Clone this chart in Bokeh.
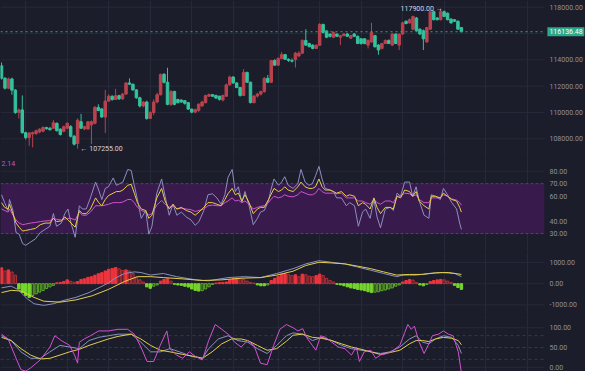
from bokeh.plotting import figure
from bokeh.layouts import column
from bokeh.models import (Range1d, FixedTicker, PrintfTickFormatter,
                          BoxAnnotation, Label, ColumnDataSource)
from bokeh.embed import file_html
from bokeh.resources import INLINE

# ---------------- candle data ----------------
opens = [113550,112600,111850,112550,111700,110000,110200,108470,108100,108380,
         108400,108520,108580,108860,108800,108800,109180,108740,108570,108810,
         108930,108200,107650,109300,108750,108750,109060,109180,110390,110270,
         109660,110870,111240,110990,111280,111040,111400,112250,112150,111720,
         111120,110500,110800,109550,110000,110800,111350,112900,112300,110620,
         111600,110990,110950,110900,110750,110260,110030,110150,110500,110750,
         111240,111360,111300,111240,110950,111240,112100,112700,112250,111900,
         111300,113050,112300,110750,111250,111400,111600,112600,112300,113950,
         113600,114100,114400,114050,113950,114020,114300,114510,115480,115240,
         115110,114870,115110,116690,116200,115960,115720,115960,115720,115840,
         115960,115650,115960,115790,115600,115600,115120,115360,115840,115120,
         114870,115240,115480,115120,115960,115120,115960,116930,116810,116330,
         117180,116330,116210,115360,116330,117660,117180,117050,117660,117540,
         117100,117050,116930,116450]
highs = [113800,112700,112650,112650,111780,110300,111300,108550,108500,108550,
         108700,108800,108950,108920,108900,109420,109250,108800,109000,109250,
         109050,108300,109550,109900,109000,109350,109400,110500,110630,110350,
         111720,111400,111300,111800,111350,111500,112300,112600,112200,111780,
         111200,110850,110900,110100,111000,111500,112950,113000,113400,111700,
         111650,111050,111000,110950,110800,110300,110300,110700,110900,111350,
         111450,111400,111350,111280,111350,112200,112800,112750,112300,111950,
         113300,113100,112350,111300,111500,111650,112700,112850,114000,114050,
         114200,114600,114450,114100,114100,114600,114650,115550,116330,115300,
         115200,115200,116800,116750,116250,116000,116150,116000,115900,116050,
         116050,115900,116050,115850,115650,115650,115550,116810,115900,115200,
         115300,115550,115550,116050,116000,116000,116900,117000,117150,117350,
         117250,116400,116300,116500,117750,117750,117250,117900,117750,117600,
         117150,117100,117000,116500]
lows = [112500,111750,111780,111350,109900,109550,108400,107950,107480,107360,
        108300,108420,108500,108700,108640,108760,108560,108250,108500,108750,
        108100,107500,107255,108750,108650,108700,107600,109100,110100,109600,
        108450,110800,110900,110950,110950,110950,111350,112100,111650,111050,
        110380,110400,109450,109500,109800,110700,111300,112200,110550,110500,
        110550,110700,110750,110600,110200,109950,109950,110050,110450,110700,
        111200,111180,111050,110900,110850,111200,112050,112180,111850,111200,
        111250,112250,110700,110700,111150,111300,111500,112250,112250,113550,
        113550,114050,114000,113850,113800,113420,114200,114450,115050,114950,
        114800,114820,115050,116000,115650,115700,115650,115750,115120,115800,
        115750,115600,115750,115200,115150,115180,114870,115300,114950,114390,
        114800,115200,115200,115050,115200,114750,115900,116700,116750,116250,
        116150,115900,114750,115300,116300,117000,117000,117000,117250,117000,
        116750,116880,116300,116100]
closes = [112600,111850,112550,111700,110000,110200,108470,108100,108450,108480,
          108620,108740,108860,108770,108690,109230,108620,108330,108930,109180,
          108200,107600,109420,108810,108930,109300,109300,110390,110150,109660,
          110870,111240,110990,111280,111040,111400,112250,112150,111720,111120,
          110500,110800,109550,110000,110800,111350,112900,112300,110620,111600,
          110620,110750,110800,110700,110260,110030,110220,110630,110800,111280,
          111360,111240,111100,111000,111300,112100,112700,112250,111900,111300,
          113050,112300,110750,111250,111400,111600,112600,112300,113950,113600,
          114100,114400,114050,113950,113900,114510,114510,115480,115120,115000,
          114870,115110,116690,116090,115720,115790,116090,115790,115840,115960,
          115790,115840,115790,115240,115240,115240,115480,116090,114990,114750,
          115240,115480,115240,115960,115240,115960,116810,116760,117050,117300,
          116210,115960,115600,116450,117660,117050,117050,117660,117300,117050,
          116810,116930,116330,116136.48]
low_mark_index = 22
high_mark_index = 127
price_ticks = [108000, 110000, 112000, 114000, 118000]
price_grid = [108000, 110000, 112000, 114000, 116000, 118000]
xgrid_ticks = [7, 19, 31, 43, 55, 67, 80, 92, 104, 116, 128, 140, 152]

# ---------------- RSI ----------------
rsi_x = [0.0,0.9,1.9,2.3,3.3,4.2,5.1,6.1,7.0,8.4,9.8,11.2,12.6,14.0,15.0,15.9,17.3,18.3,19.2,20.1,
         21.3,22.5,23.4,24.5,25.7,27.2,28.1,29.0,30.0,30.9,32.3,33.2,34.2,35.1,36.5,37.5,38.4,39.3,40.4,41.7,
         42.6,43.5,
         44.9,46.3,47.3,48.5,49.6,50.7,52.0,53.4,54.8,56.0,57.1,58.5,59.7,61.0,62.3,63.5,64.6,65.5,66.7,67.6,
         68.5,69.5,70.4,71.6,72.8,74.0,74.9,76.0,77.2,77.9,78.8,80.1,81.0,81.9,82.9,84.3,85.7,86.6,87.8,88.9,
         89.9,90.8,91.8,92.7,93.6,95.0,96.0,96.9,98.3,99.7,100.7,102.1,103.2,104.4,105.3,106.6,107.7,108.6,109.6,111.0,
         112.4,113.3,114.4,115.4,116.6,118.0,118.9,119.9,120.8,122.2,123.6,124.3,125.5,126.9,127.8,129.0,130.2,131.6,132.5,133.0]
rsi6 = [61.1,54.8,48.5,57.3,48.5,30.8,29.5,21.9,20.6,23.2,25.7,30.8,33.3,35.8,46.0,35.8,38.4,46.0,49.7,38.4,
        27.0,52.3,49.7,49.7,58.6,71.3,64.9,57.3,66.2,67.5,74.6,68.7,70.0,71.3,81.4,80.6,68.7,57.3,42.2,48.5,
        29.5,35.8,
        62.4,73.8,59.9,44.7,53.5,44.7,47.2,43.4,40.9,36.6,39.6,48.5,61.1,61.9,58.6,53.5,61.1,75.1,81.4,63.7,
        67.5,54.8,63.7,52.3,37.1,42.2,47.2,48.5,56.1,64.9,73.8,68.7,71.3,75.6,68.7,66.2,70.0,81.4,71.3,68.7,
        70.0,76.3,83.9,73.8,66.2,64.9,63.7,58.6,58.6,52.3,54.8,52.3,35.8,47.2,49.7,42.2,57.3,43.4,34.6,49.7,
        51.0,48.5,62.4,59.9,71.3,71.3,59.9,67.5,56.1,44.7,42.2,61.1,59.9,57.3,66.2,61.1,54.8,49.7,38.4,33.3]
rsi12 = [54.8,51.0,49.7,53.5,46.0,38.4,35.1,32.0,32.5,33.3,34.1,37.1,38.4,38.4,42.2,39.6,40.1,43.4,40.9,38.4,
         35.1,48.5,46.0,46.0,49.7,58.6,54.8,52.3,57.3,60.4,62.4,63.7,63.7,64.9,68.7,69.5,62.4,54.8,49.7,48.5,
         42.2,44.7,
         58.6,66.2,56.1,49.7,53.5,49.7,51.0,48.5,47.2,44.7,47.2,51.0,54.8,54.8,53.5,52.3,57.3,61.9,66.2,61.1,
         62.4,56.1,61.1,54.8,46.0,49.7,51.0,51.0,57.3,61.1,66.2,63.7,64.9,67.5,64.9,63.7,67.5,71.3,67.5,66.2,
         66.2,67.5,73.8,67.5,64.9,64.9,63.7,62.4,63.7,59.9,61.1,59.9,52.3,54.8,53.5,49.7,58.6,51.0,46.0,51.0,
         51.0,49.7,59.9,58.6,64.9,63.7,59.9,63.7,56.1,52.3,49.7,59.9,59.9,58.6,62.4,59.9,57.3,56.1,51.0,47.2]
rsi24 = [49.7,48.5,47.2,49.7,44.7,40.9,38.4,37.1,37.6,38.4,38.9,39.6,40.1,40.4,42.2,41.4,40.9,41.6,42.2,42.2,
         40.9,47.2,44.7,44.7,47.2,52.3,52.3,52.3,52.8,53.5,54.8,54.8,54.8,55.3,57.3,57.3,54.8,51.0,48.5,47.2,
         44.7,46.0,
         52.8,56.6,53.5,51.0,52.3,49.7,50.3,49.7,49.2,47.7,48.5,49.7,52.3,52.8,52.3,52.3,54.8,56.1,58.6,56.1,
         56.8,54.8,56.1,53.5,49.7,51.0,51.8,52.3,54.8,57.3,59.9,58.6,59.4,61.1,59.9,59.4,61.1,63.7,62.4,61.1,
         61.1,62.4,66.2,63.7,62.4,62.4,62.4,61.9,62.4,58.6,58.6,58.6,56.1,56.1,54.8,53.5,57.3,54.8,53.5,56.1,
         56.1,54.8,59.9,59.9,62.4,61.9,59.9,61.1,57.3,54.8,54.8,58.6,58.6,58.6,61.1,59.9,57.8,56.8,54.8,52.8]
rsi_ticks = [30, 40, 60, 70, 80]

# ---------------- MACD ----------------
macd_hist = [750,600,650,550,400,
             -250,-420,-560,-650,-560,-480,-400,-320,-230,-150,-80,
             40,60,100,180,110,70,
             100,200,230,300,330,400,470,520,600,680,720,760,700,620,650,600,480,300,180,80,
             -150,-220,-120,-60,
             120,200,230,120,
             -30,-60,-80,-120,-160,-250,-320,-350,-330,-250,-150,-40,
             30,50,60,80,180,230,260,250,200,120,60,30,
             -60,-100,-100,-60,
             150,250,350,450,480,420,380,
             420,330,450,420,350,330,380,450,380,250,150,80,
             -30,-60,-100,-150,-200,-230,-270,-300,-330,-380,-420,-400,-380,-330,-300,-250,-200,-120,-60,
             80,150,200,170,60,
             -60,-100,-40,
             100,150,180,200,180,120,60,
             -80,-180,-270]
dif_x = [0.0,2.8,4.7,7.5,9.4,12.2,15.0,17.8,21.5,25.3,28.1,30.9,32.8,35.6,38.4,40.3,43.1,46.8,50.6,56.2,
         59.9,65.5,70.2,74.9,79.6,84.3,88.0,91.8,95.5,99.3,103.0,106.8,110.5,114.3,116.1,119.9,123.6,127.4,131.1,133.0]
dif = [-196,-120,-271,-722,-948,-1023,-948,-797,-647,-421,-196,30,256,481,556,526,406,481,331,180,
       135,286,331,286,481,707,932,1083,1008,932,782,632,481,331,406,406,481,526,481,331]
dea_x = [0.0,2.8,5.6,9.4,12.2,16.9,21.5,26.2,30.9,35.6,39.3,43.1,46.8,52.4,58.1,63.7,69.3,74.9,79.6,84.3,
         88.0,91.8,95.5,99.3,103.0,106.8,110.5,114.3,118.0,121.8,125.5,129.2,133.0]
dea = [-421,-316,-346,-647,-827,-872,-767,-572,-271,105,331,331,286,226,150,180,256,286,406,587,
       857,1008,978,932,827,707,556,406,436,436,511,526,436]
macd_ticks = [-1000, 0, 1000]

# ---------------- KDJ ----------------
k_x = [0.0,2.8,5.6,8.4,11.2,14.0,16.9,19.7,22.5,25.3,28.1,30.9,33.7,37.5,40.3,43.1,45.9,48.7,51.5,55.2,
       58.1,59.9,62.7,65.5,68.4,71.2,74.0,76.8,79.6,82.4,
       84.3,87.1,89.9,92.7,95.5,98.3,101.2,104.0,106.8,109.6,112.4,115.2,118.0,119.9,121.8,123.6,125.5,127.8,130.2,132.1,133.0]
k_vals = [79.8,67.6,39.1,22.8,22.8,39.1,55.4,51.3,47.2,67.6,75.7,79.8,83.8,83.8,63.5,39.1,39.1,47.2,39.1,26.9,
          22.8,47.2,71.6,79.8,67.6,63.5,47.2,35.0,55.4,79.8,
          87.0,83.8,67.6,75.7,67.6,55.4,47.2,43.2,39.1,35.0,39.1,51.3,71.6,79.8,63.5,59.4,71.6,79.8,75.7,55.4,35.0]
d_x = [0.0,2.8,5.6,8.4,11.2,14.0,16.9,19.7,22.5,25.3,28.1,30.9,33.7,37.5,40.3,43.1,45.9,48.7,52.4,56.2,
       58.1,60.9,63.7,66.5,69.3,71.2,74.0,76.8,79.6,82.4,
       84.3,87.1,89.9,92.7,95.5,98.3,101.2,104.0,106.8,109.6,112.4,115.2,118.0,119.9,121.8,123.6,125.5,127.8,130.2,132.1,133.0]
d_vals = [75.7,67.6,47.2,31.0,21.2,22.8,31.0,39.1,45.6,55.4,63.5,71.6,78.1,83.8,71.6,55.4,43.2,39.1,32.6,26.9,
          22.8,39.1,59.4,71.6,71.6,67.6,55.4,43.2,47.2,66.0,
          81.0,83.8,75.7,73.3,67.6,59.4,51.3,45.6,39.1,32.6,37.5,43.2,59.4,67.6,67.6,65.1,71.6,75.7,73.3,67.6,57.0]
j_x = [0.0,1.9,4.2,5.6,7.0,8.4,11.2,14.0,15.4,17.3,19.7,21.1,22.0,22.5,23.9,25.7,28.1,30.9,33.7,36.5,
       38.4,40.3,42.1,44.0,45.9,47.8,48.7,50.6,52.4,54.3,56.2,58.1,59.9,61.8,63.7,65.5,67.4,69.3,71.2,73.0,
       74.9,76.8,78.7,80.5,82.4,
       84.3,85.7,87.1,88.5,89.9,90.9,92.3,93.7,95.5,97.4,99.3,101.2,102.6,103.5,104.9,106.8,108.2,109.6,111.5,113.3,
       115.2,116.6,117.5,118.5,119.4,120.8,122.2,123.6,124.6,126.4,127.8,129.2,130.6,132.1,133.0]
j_vals = [83.8,71.6,22.8,-5.6,-9.7,-1.5,18.8,51.3,79.8,67.6,55.4,31.0,10.6,63.5,71.6,79.8,91.9,91.9,96.0,96.0,
          83.8,51.3,14.7,14.7,55.4,91.9,47.2,31.0,22.8,39.1,26.9,18.8,67.6,108.2,96.0,83.8,63.5,51.3,67.6,55.4,
          10.6,6.6,55.4,96.0,108.2,
          100.1,91.9,97.6,71.6,55.4,43.2,79.8,75.7,63.5,51.3,47.2,31.0,51.3,14.7,39.1,43.2,22.8,31.0,35.0,43.2,
          55.4,87.9,108.2,96.0,104.1,63.5,35.0,59.4,79.8,83.8,91.9,83.8,79.8,39.1,-13.7]
kdj_ticks = [0, 50, 100]

# ---------------- styles ----------------
BG = "#1b1d2b"
GRID_C = "#262939"
AX_C = "#8e91a6"
UP = "#b8434e"
DOWN = "#34c29c"
C_GREY = "#8a90c0"
C_YEL = "#e3cf4a"
C_PINK = "#d253d2"
TEAL = "#2aa98b"
FONT = "Roboto"

# candle area spans 544 px of the 584 px frame; the price scale sits in the rest
X_START = -0.3
AREA_END = 157.0
xr = Range1d(X_START, 168.6)


def hlines(p, levels, color, dash="solid", level="underlay"):
    """horizontal reference lines that stop at the edge of the chart area"""
    p.segment(x0=[X_START] * len(levels), x1=[AREA_END] * len(levels),
              y0=levels, y1=levels, line_color=color, line_width=1,
              line_dash=dash, level=level)


def panel(h, y0, y1, ticks, grid_ticks):
    p = figure(frame_width=584, frame_height=h, x_range=xr, y_range=Range1d(y0, y1),
               x_axis_location=None, y_axis_location="right", toolbar_location=None,
               output_backend="svg", min_border_left=0, min_border_right=0,
               min_border_top=0, min_border_bottom=0,
               background_fill_color=BG, border_fill_color=BG, outline_line_color=None)
    ax = p.yaxis[0]
    ax.ticker = FixedTicker(ticks=ticks)
    ax.formatter = PrintfTickFormatter(format="%.2f")
    ax.axis_line_color = None
    ax.major_tick_line_color = None
    ax.minor_tick_line_color = None
    ax.major_tick_out = 0
    ax.major_tick_in = 0
    ax.major_label_text_font = FONT
    ax.major_label_text_font_size = "7px"
    ax.major_label_text_color = AX_C
    ax.major_label_standoff = -35
    p.ygrid.grid_line_color = None
    p.xgrid.ticker = FixedTicker(ticks=xgrid_ticks)
    p.xgrid.grid_line_color = GRID_C
    if grid_ticks:
        hlines(p, grid_ticks, GRID_C)
    return p


# ---------------- main candle panel ----------------
p1 = panel(158, 106509, 118509, price_ticks, price_grid)
n = len(closes)
idx = list(range(n))
src = ColumnDataSource(dict(
    x=idx, o=opens, h=highs, l=lows, c=closes,
    top=[max(a, b) for a, b in zip(opens, closes)],
    bot=[min(a, b) for a, b in zip(opens, closes)],
    col=[UP if c > o else DOWN for o, c in zip(opens, closes)]))
p1.segment(x0="x", y0="l", x1="x", y1="h", line_color="col", line_width=1, source=src)
p1.vbar(x="x", width=0.72, top="top", bottom="bot", fill_color="col", line_color="col", source=src)
hlines(p1, [closes[-1]], TEAL, dash="2 3", level="glyph")
p1.add_layout(Label(x=AREA_END, y=closes[-1], x_offset=3, text=f"{closes[-1]:.2f}",
                    text_font=FONT, text_font_size="7px", text_color="#ffffff",
                    text_baseline="middle", text_align="left",
                    background_fill_color=TEAL, padding=2))
p1.add_layout(Label(x=low_mark_index, y=lows[low_mark_index], x_offset=3,
                    text=f"\u2190 {lows[low_mark_index]:.2f}",
                    text_font=FONT, text_font_size="7px", text_color="#d4d6e0",
                    text_baseline="middle", text_align="left"))
p1.add_layout(Label(x=high_mark_index, y=highs[high_mark_index], x_offset=2,
                    text=f"{highs[high_mark_index]:.2f} \u2192",
                    text_font=FONT, text_font_size="7px", text_color="#d4d6e0",
                    text_baseline="middle", text_align="right"))

# ---------------- RSI panel ----------------
p2 = panel(93, 15.6, 90.2, rsi_ticks, [80])
p2.add_layout(BoxAnnotation(bottom=30, top=70, right=AREA_END, fill_color="#3b1a4f",
                            fill_alpha=0.93, line_color=None, level="underlay"))
hlines(p2, [70, 30], "#5e3d72", dash="3 2", level="glyph")
p2.line(rsi_x, rsi6, line_color=C_GREY, line_width=1)
p2.line(rsi_x, rsi24, line_color=C_PINK, line_width=1)
p2.line(rsi_x, rsi12, line_color=C_YEL, line_width=1)
p2.add_layout(Label(x=X_START, y=90.2, x_offset=1, y_offset=-2, text="2.14",
                    text_font=FONT, text_font_size="7px", text_color="#c854c4",
                    text_baseline="top", text_align="left"))

# ---------------- MACD panel ----------------
p3 = panel(63, -1455, 1518, macd_ticks, macd_ticks)
fills, lines = [], []
prev = 0
for v in macd_hist:
    if v >= 0:
        if v >= prev:
            fills.append("#f0343c"); lines.append("#f0343c")
        else:
            fills.append("#5e1e26"); lines.append("#b0313b")
    else:
        if v <= prev:
            fills.append("#76d62a"); lines.append("#76d62a")
        else:
            fills.append("#284a1c"); lines.append("#5fa82c")
    prev = v
hsrc = ColumnDataSource(dict(x=idx, top=macd_hist, f=fills, lc=lines))
p3.vbar(x="x", width=0.7, top="top", bottom=0, fill_color="f", line_color="lc", source=hsrc)
p3.line(dif_x, dif, line_color=C_GREY, line_width=1)
p3.line(dea_x, dea, line_color=C_YEL, line_width=1)

# ---------------- KDJ panel ----------------
p4 = panel(57, -10.5, 133.4, kdj_ticks, [0, 100])
hlines(p4, [20, 50, 80], "#363a4e", dash="3 3")
p4.line(k_x, k_vals, line_color=C_GREY, line_width=1)
p4.line(d_x, d_vals, line_color=C_YEL, line_width=1)
p4.line(j_x, j_vals, line_color=C_PINK, line_width=1)

layout = column(p1, p2, p3, p4, spacing=0, styles={"background-color": BG})
open("out.html", "w").write(file_html(layout, INLINE))
